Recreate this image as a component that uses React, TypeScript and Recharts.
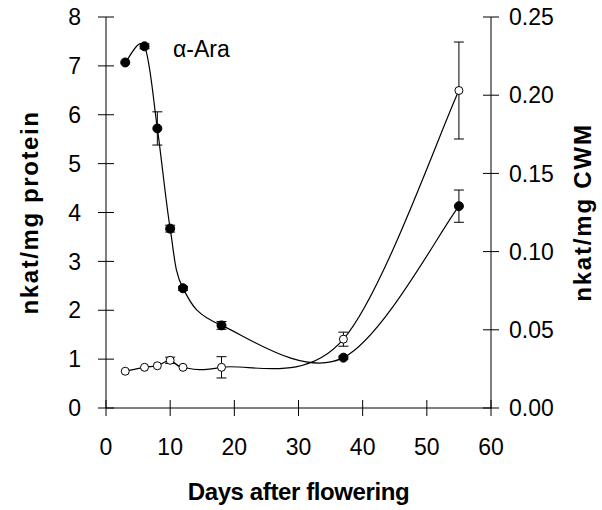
import React from 'react';
import { LineChart, Line, XAxis, YAxis, ErrorBar, Label } from 'recharts';

// days after flowering, shared by both series
const days = [3, 6, 8, 10, 12, 18, 37, 55];
// filled circles, left axis (nkat/mg protein)
const protein = [7.07, 7.4, 5.72, 3.67, 2.45, 1.69, 1.03, 4.13];
const proteinErr = [null, 0.05, 0.34, 0.07, 0.04, 0.08, 0.03, 0.33];
// open circles, right axis (nkat/mg CWM)
const cwm = [0.0235, 0.026, 0.027, 0.0305, 0.026, 0.026, 0.044, 0.203];
const cwmErr = [null, null, null, 0.002, null, 0.0068, 0.0045, 0.031];

const xTicks = [0, 10, 20, 30, 40, 50, 60];
const leftTicks = [0, 1, 2, 3, 4, 5, 6, 7, 8];
const rightTicks = [0, 0.05, 0.1, 0.15, 0.2, 0.25];

const data = days.map((d, i) => ({
  day: d,
  protein: protein[i],
  proteinErr: proteinErr[i],
  cwm: cwm[i],
  cwmErr: cwmErr[i],
}));

const FONT = '"Liberation Sans", Arial, sans-serif';

// smoothed line like the spreadsheet one (Catmull-Rom through every point)
const smooth = (context: any) => {
  let pts: number[][] = [];
  return {
    areaStart() {},
    areaEnd() {},
    lineStart() {
      pts = [];
    },
    point(x: number, y: number) {
      pts.push([+x, +y]);
    },
    lineEnd() {
      if (!pts.length) return;
      context.moveTo(pts[0][0], pts[0][1]);
      for (let i = 0; i < pts.length - 1; i++) {
        const p0 = pts[i - 1] || pts[i];
        const p1 = pts[i];
        const p2 = pts[i + 1];
        const p3 = pts[i + 2] || p2;
        context.bezierCurveTo(
          p1[0] + (p2[0] - p0[0]) / 6,
          p1[1] + (p2[1] - p0[1]) / 6,
          p2[0] - (p3[0] - p1[0]) / 6,
          p2[1] - (p3[1] - p1[1]) / 6,
          p2[0],
          p2[1]
        );
      }
    },
  };
};

const TICK = 8;

const LeftTick = (props: any) => {
  const { x, y, payload } = props;
  return (
    <g>
      <line x1={x} x2={x + 2 * TICK} y1={y} y2={y} stroke="#000" />
      <text x={x - 17} y={y} dy="0.355em" textAnchor="end" fontSize={23} fontFamily={FONT} fill="#000">
        {payload.value}
      </text>
    </g>
  );
};

const RightTick = (props: any) => {
  const { x, y, payload } = props;
  return (
    <g>
      <line x1={x - 2 * TICK} x2={x} y1={y} y2={y} stroke="#000" />
      <text x={x + 10} y={y} dy="0.355em" textAnchor="start" fontSize={23} fontFamily={FONT} fill="#000">
        {payload.value.toFixed(2)}
      </text>
    </g>
  );
};

const BottomTick = (props: any) => {
  const { x, y, payload } = props;
  return (
    <g>
      <line x1={x} x2={x} y1={y - 2 * TICK} y2={y} stroke="#000" />
      <text x={x} y={y + 31} dy="0.355em" textAnchor="middle" fontSize={23} fontFamily={FONT} fill="#000">
        {payload.value}
      </text>
    </g>
  );
};

const titleStyle = { fontSize: 24, fontWeight: 700, fontFamily: FONT, fill: '#000' };

export default function App() {
  return (
    <div style={{ position: 'absolute', left: 0, top: 0, width: 602, height: 510, background: '#fff' }}>
      <LineChart width={602} height={510} data={data} margin={{ top: 17, right: 0, bottom: 0, left: 0 }}>
        <XAxis
          xAxisId="top"
          orientation="top"
          type="number"
          dataKey="day"
          domain={[0, 60]}
          height={0}
          tick={false}
          tickLine={false}
          axisLine={{ stroke: '#000' }}
        />
        <XAxis
          type="number"
          dataKey="day"
          domain={[0, 60]}
          ticks={xTicks}
          height={102}
          tickSize={TICK}
          tickMargin={0}
          tickLine={false}
          tick={<BottomTick />}
          axisLine={{ stroke: '#000' }}
        >
          <Label
            content={({ viewBox }: any) => (
              <text
                x={viewBox.x + viewBox.width / 2}
                y={viewBox.y + 92}
                textAnchor="middle"
                letterSpacing={-0.4}
                {...titleStyle}
              >
                Days after flowering
              </text>
            )}
          />
        </XAxis>
        <YAxis
          yAxisId="left"
          domain={[0, 8]}
          ticks={leftTicks}
          width={106}
          tickSize={TICK}
          tickMargin={0}
          tickLine={false}
          tick={<LeftTick />}
          axisLine={{ stroke: '#000' }}
        >
          <Label
            content={({ viewBox }: any) => {
              const cx = viewBox.x + 29;
              const cy = viewBox.y + viewBox.height / 2;
              return (
                <text
                  x={cx}
                  y={cy}
                  transform={`rotate(-90 ${cx} ${cy})`}
                  textAnchor="middle"
                  dominantBaseline="central"
                  letterSpacing={1.6}
                  {...titleStyle}
                >
                  nkat/mg protein
                </text>
              );
            }}
          />
        </YAxis>
        <YAxis
          yAxisId="right"
          orientation="right"
          domain={[0, 0.25]}
          ticks={rightTicks}
          width={111}
          tickSize={TICK}
          tickMargin={0}
          tickLine={false}
          tick={<RightTick />}
          axisLine={{ stroke: '#000' }}
        >
          <Label
            content={({ viewBox }: any) => {
              const cx = viewBox.x + 91;
              const cy = viewBox.y + viewBox.height / 2;
              return (
                <text
                  x={cx}
                  y={cy}
                  transform={`rotate(-90 ${cx} ${cy})`}
                  textAnchor="middle"
                  dominantBaseline="central"
                  letterSpacing={1.8}
                  {...titleStyle}
                >
                  nkat/mg CWM
                </text>
              );
            }}
          />
        </YAxis>
        <Line
          yAxisId="right"
          dataKey="cwm"
          type={smooth as any}
          stroke="#000"
          strokeWidth={1.2}
          dot={{ r: 4, fill: '#fff', stroke: '#000', strokeWidth: 1 }}
          activeDot={false}
          isAnimationActive={false}
        >
          <ErrorBar dataKey="cwmErr" direction="y" width={5} stroke="#000" strokeWidth={1} />
        </Line>
        <Line
          yAxisId="left"
          dataKey="protein"
          type={smooth as any}
          stroke="#000"
          strokeWidth={1.2}
          dot={{ r: 4.5, fill: '#000', stroke: '#000', strokeWidth: 1 }}
          activeDot={false}
          isAnimationActive={false}
        >
          <ErrorBar dataKey="proteinErr" direction="y" width={5} stroke="#000" strokeWidth={1} />
        </Line>
      </LineChart>
      <svg
        width={602}
        height={510}
        style={{ position: 'absolute', left: 0, top: 0, pointerEvents: 'none' }}
      >
        <text x={173} y={57} fontSize={23} fontFamily={FONT} fill="#000">
          α-Ara
        </text>
      </svg>
    </div>
  );
}
